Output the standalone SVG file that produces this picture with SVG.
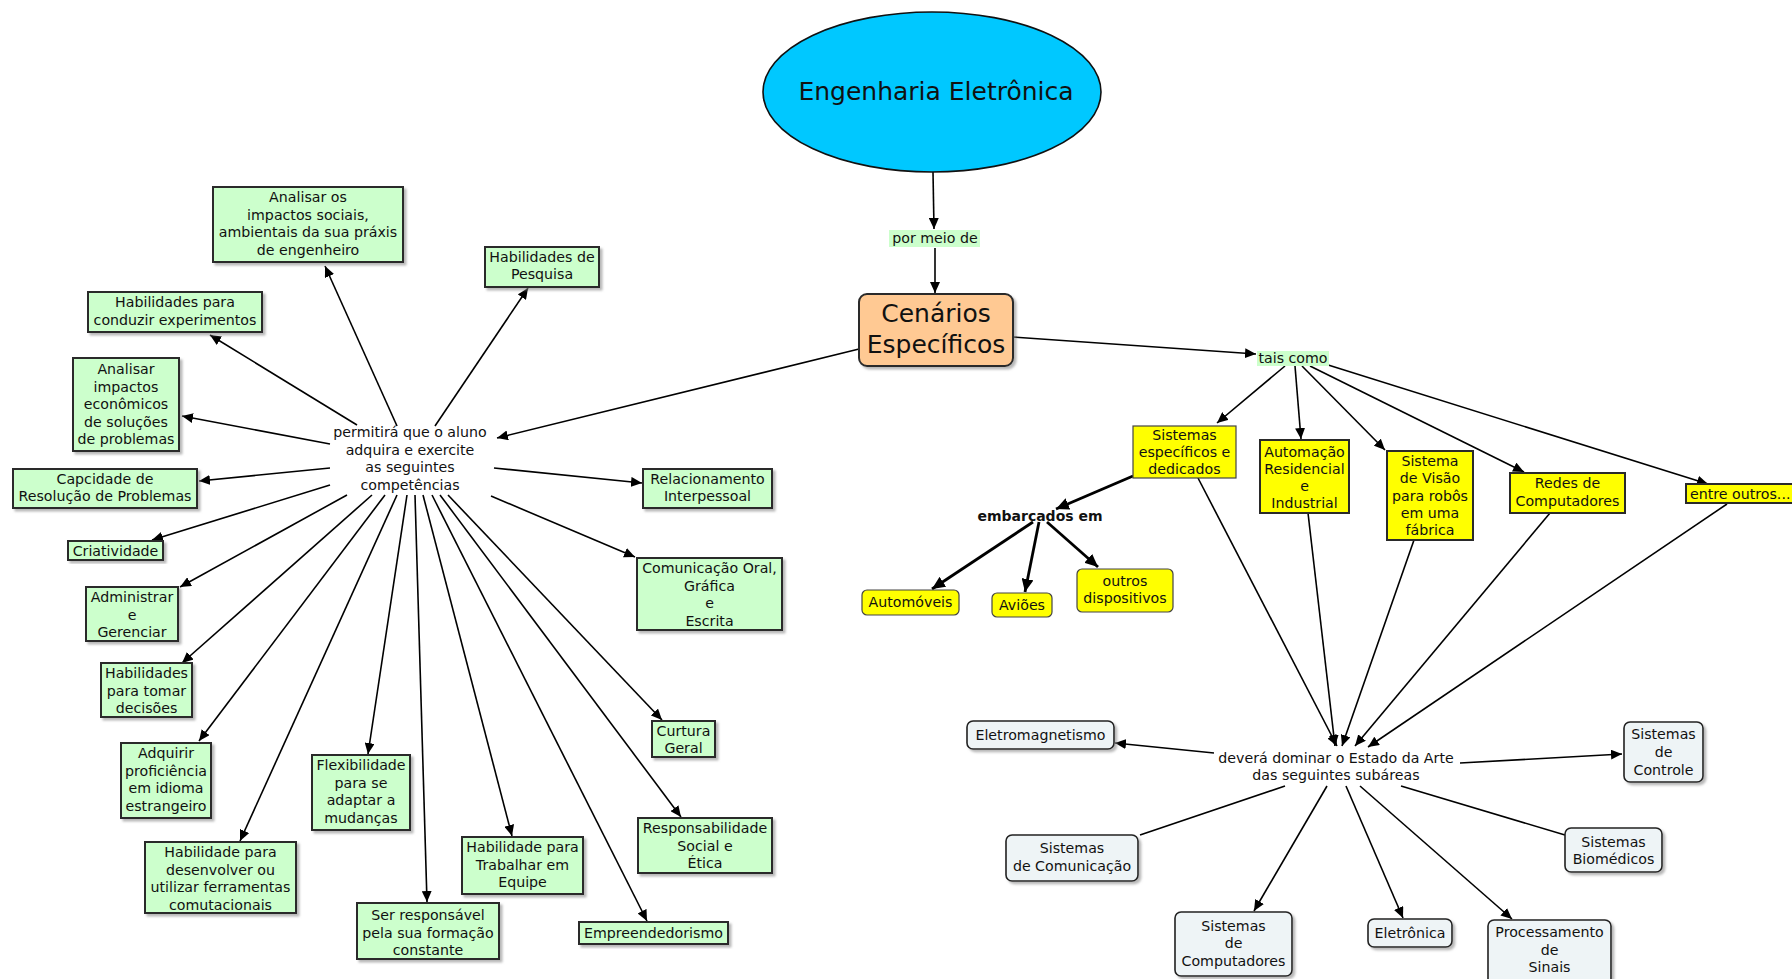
<svg xmlns="http://www.w3.org/2000/svg" width="1792" height="979" viewBox="0 0 1792 979">
<style>
text{font-family:"DejaVu Sans",Verdana,sans-serif;font-size:14.2px;fill:#111;text-anchor:middle}
.g{fill:#CCFFCC;stroke:#2a2a2a;stroke-width:2;filter:url(#sh)}
.y{fill:#FFFF00;stroke:#2a2a2a;stroke-width:2}
.yr{fill:#FFFF00;stroke:#444;stroke-width:1.2}
.b{fill:#EEF4F6;stroke:#222;stroke-width:1.6;filter:url(#sh)}
.lbl{fill:#CCFFCC}
.c line{stroke:#000;stroke-width:1.6;fill:none}
.c .a{marker-end:url(#ar)}
.c .t{stroke-width:2.8;marker-end:url(#arb)}
</style>
<defs>
<filter id="sh" x="-10%" y="-10%" width="130%" height="130%">
<feDropShadow dx="2.5" dy="2.5" stdDeviation="1.2" flood-color="#888" flood-opacity="0.6"/>
</filter>
<marker id="ar" markerUnits="userSpaceOnUse" markerWidth="12" markerHeight="10" refX="11" refY="5" orient="auto">
<path d="M0,0 L11,5 L0,10 z" fill="#000"/>
</marker>
<marker id="arb" markerUnits="userSpaceOnUse" markerWidth="14" markerHeight="12" refX="13" refY="6" orient="auto">
<path d="M0,0 L13,6 L0,12 z" fill="#000"/>
</marker>
</defs>
<rect width="1792" height="979" fill="#fff"/>

<g class="c" id="connectors">
<line class="a" x1="933" y1="172" x2="934" y2="229"/>
<line class="a" x1="935" y1="248" x2="935" y2="293"/>
<line class="a" x1="859" y1="349" x2="497" y2="438"/>
<line class="a" x1="1013" y1="337" x2="1256" y2="354"/>
<line class="a" x1="397" y1="426" x2="325" y2="266"/>
<line class="a" x1="357" y1="425" x2="210" y2="335"/>
<line class="a" x1="330" y1="444" x2="182" y2="416"/>
<line class="a" x1="330" y1="468" x2="199" y2="481"/>
<line class="a" x1="330" y1="485" x2="152" y2="540"/>
<line class="a" x1="347" y1="495" x2="180" y2="587"/>
<line class="a" x1="372" y1="495" x2="182" y2="663"/>
<line class="a" x1="385" y1="495" x2="199" y2="741"/>
<line class="a" x1="397" y1="495" x2="240" y2="841"/>
<line class="a" x1="407" y1="495" x2="368" y2="754"/>
<line class="a" x1="415" y1="495" x2="427" y2="902"/>
<line class="a" x1="423" y1="495" x2="512" y2="836"/>
<line class="a" x1="432" y1="495" x2="647" y2="921"/>
<line class="a" x1="440" y1="495" x2="681" y2="817"/>
<line class="a" x1="448" y1="495" x2="662" y2="720"/>
<line class="a" x1="435" y1="426" x2="528" y2="288"/>
<line class="a" x1="494" y1="468" x2="642" y2="483"/>
<line class="a" x1="491" y1="496" x2="635" y2="557"/>
<line class="a" x1="1285" y1="366" x2="1217" y2="423"/>
<line class="a" x1="1295" y1="366" x2="1301" y2="439"/>
<line class="a" x1="1302" y1="366" x2="1385" y2="450"/>
<line class="a" x1="1310" y1="366" x2="1524" y2="472"/>
<line class="a" x1="1325" y1="364" x2="1708" y2="484"/>
<line class="a" x1="1198" y1="478" x2="1337" y2="746"/>
<line class="a" x1="1308" y1="513" x2="1335" y2="746"/>
<line class="a" x1="1414" y1="540" x2="1342" y2="746"/>
<line class="a" x1="1550" y1="513" x2="1355" y2="746"/>
<line class="a" x1="1727" y1="504" x2="1368" y2="747"/>
<line class="t" x1="1133" y1="476" x2="1056" y2="509"/>
<line class="t" x1="1033" y1="522" x2="932" y2="589"/>
<line class="t" x1="1039" y1="522" x2="1025" y2="592"/>
<line class="t" x1="1047" y1="522" x2="1098" y2="567"/>
<line class="a" x1="1214" y1="753" x2="1115" y2="743"/>
<line class="a" x1="1460" y1="763" x2="1622" y2="754"/>
<line x1="1285" y1="786" x2="1140" y2="835"/>
<line class="a" x1="1327" y1="786" x2="1254" y2="911"/>
<line class="a" x1="1346" y1="786" x2="1403" y2="918"/>
<line class="a" x1="1360" y1="786" x2="1512" y2="919"/>
<line x1="1401" y1="786" x2="1565" y2="835"/>
</g>

<g id="engenharia">
<ellipse cx="932" cy="92" rx="169" ry="80" fill="#00C8FF" stroke="#111" stroke-width="1.6"/>
<text x="936" y="100" style="font-size:25px">Engenharia Eletrônica</text>
</g>
<g id="por-meio-de">
<rect class="lbl" x="889" y="230" width="91" height="17"/>
<text x="935" y="243">por meio de</text>
</g>
<g id="cenarios">
<rect x="859" y="294" width="154" height="72" rx="8" fill="#FFC993" stroke="#2a2a2a" stroke-width="2" filter="url(#sh)"/>
<text x="936" y="322" style="font-size:25px">Cenários</text>
<text x="936" y="353" style="font-size:25px">Específicos</text>
</g>
<g id="permitira">
<text x="410" y="437">permitirá que o aluno</text>
<text x="410" y="454.5">adquira e exercite</text>
<text x="410" y="472">as seguintes</text>
<text x="410" y="489.5">competências</text>
</g>

<g id="n-sociais"><rect class="g" x="213" y="187" width="190" height="75"/>
<text x="308" y="202">Analisar os</text><text x="308" y="219.5">impactos sociais,</text><text x="308" y="237">ambientais da sua práxis</text><text x="308" y="254.5">de engenheiro</text></g>
<g id="n-conduzir"><rect class="g" x="88" y="292" width="174" height="40"/>
<text x="175" y="307">Habilidades para</text><text x="175" y="324.5">conduzir experimentos</text></g>
<g id="n-economicos"><rect class="g" x="73" y="358" width="106" height="93"/>
<text x="126" y="374">Analisar</text><text x="126" y="391.5">impactos</text><text x="126" y="409">econômicos</text><text x="126" y="426.5">de soluções</text><text x="126" y="444">de problemas</text></g>
<g id="n-capcidade"><rect class="g" x="13" y="469" width="184" height="39"/>
<text x="105" y="484">Capcidade de</text><text x="105" y="501">Resolução de Problemas</text></g>
<g id="n-criatividade"><rect class="g" x="68" y="541" width="95" height="19"/>
<text x="115.5" y="556">Criatividade</text></g>
<g id="n-administrar"><rect class="g" x="86" y="587" width="92" height="54"/>
<text x="132" y="602">Administrar</text><text x="132" y="619.5">e</text><text x="132" y="637">Gerenciar</text></g>
<g id="n-decisoes"><rect class="g" x="101" y="663" width="91" height="54"/>
<text x="146.5" y="678">Habilidades</text><text x="146.5" y="695.5">para tomar</text><text x="146.5" y="713">decisões</text></g>
<g id="n-idioma"><rect class="g" x="121" y="743" width="90" height="75"/>
<text x="166" y="758">Adquirir</text><text x="166" y="775.5">proficiência</text><text x="166" y="793">em idioma</text><text x="166" y="810.5">estrangeiro</text></g>
<g id="n-ferramentas"><rect class="g" x="145" y="842" width="151" height="71"/>
<text x="220.5" y="857">Habilidade para</text><text x="220.5" y="874.5">desenvolver ou</text><text x="220.5" y="892">utilizar ferramentas</text><text x="220.5" y="909.5">comutacionais</text></g>
<g id="n-flexibilidade"><rect class="g" x="312" y="755" width="98" height="75"/>
<text x="361" y="770">Flexibilidade</text><text x="361" y="787.5">para se</text><text x="361" y="805">adaptar a</text><text x="361" y="822.5">mudanças</text></g>
<g id="n-responsavel"><rect class="g" x="357" y="903" width="142" height="56"/>
<text x="428" y="920">Ser responsável</text><text x="428" y="937.5">pela sua formação</text><text x="428" y="955">constante</text></g>
<g id="n-equipe"><rect class="g" x="462" y="837" width="121" height="57"/>
<text x="522.5" y="852">Habilidade para</text><text x="522.5" y="869.5">Trabalhar em</text><text x="522.5" y="887">Equipe</text></g>
<g id="n-empreendedorismo"><rect class="g" x="579" y="922" width="149" height="22"/>
<text x="653.5" y="938">Empreendedorismo</text></g>
<g id="n-etica"><rect class="g" x="638" y="818" width="134" height="55"/>
<text x="705" y="833">Responsabilidade</text><text x="705" y="850.5">Social e</text><text x="705" y="868">Ética</text></g>
<g id="n-cultura"><rect class="g" x="652" y="721" width="63" height="36"/>
<text x="683.5" y="736">Curtura</text><text x="683.5" y="752.5">Geral</text></g>
<g id="n-comunicacao"><rect class="g" x="637" y="558" width="145" height="72"/>
<text x="709.5" y="573">Comunicação Oral,</text><text x="709.5" y="590.5">Gráfica</text><text x="709.5" y="608">e</text><text x="709.5" y="625.5">Escrita</text></g>
<g id="n-relacionamento"><rect class="g" x="643" y="469" width="129" height="39"/>
<text x="707.5" y="484">Relacionamento</text><text x="707.5" y="501">Interpessoal</text></g>
<g id="n-pesquisa"><rect class="g" x="485" y="247" width="114" height="40"/>
<text x="542" y="262">Habilidades de</text><text x="542" y="279">Pesquisa</text></g>

<g id="tais-como">
<rect class="lbl" x="1257" y="351" width="72" height="15"/>
<text x="1293" y="363">tais como</text>
</g>
<g id="n-sistemas-especificos"><rect class="yr" x="1133" y="426" width="103" height="52"/>
<text x="1184.5" y="440">Sistemas</text><text x="1184.5" y="457">específicos e</text><text x="1184.5" y="474">dedicados</text></g>
<g id="n-automacao"><rect class="y" x="1260" y="440" width="89" height="73"/>
<text x="1304.5" y="457">Automação</text><text x="1304.5" y="474">Residencial</text><text x="1304.5" y="491">e</text><text x="1304.5" y="508">Industrial</text></g>
<g id="n-visao"><rect class="y" x="1387" y="451" width="86" height="89"/>
<text x="1430" y="466">Sistema</text><text x="1430" y="483.3">de Visão</text><text x="1430" y="500.6">para robôs</text><text x="1430" y="518">em uma</text><text x="1430" y="535">fábrica</text></g>
<g id="n-redes"><rect class="y" x="1510" y="473" width="115" height="40"/>
<text x="1567.5" y="488">Redes de</text><text x="1567.5" y="506">Computadores</text></g>
<g id="n-entre-outros"><rect class="y" x="1686" y="484" width="112" height="19"/>
<text x="1690" y="499" style="text-anchor:start">entre outros...</text></g>
<g id="embarcados">
<text x="1040" y="521" style="font-weight:bold;font-size:14px">embarcados em</text>
</g>
<g id="n-automoveis"><rect class="yr" x="862" y="590" width="97" height="25" rx="5"/>
<text x="910.5" y="607">Automóveis</text></g>
<g id="n-avioes"><rect class="yr" x="992" y="593" width="60" height="24" rx="5"/>
<text x="1022" y="610">Aviões</text></g>
<g id="n-outros-dispositivos"><rect class="yr" x="1077" y="569" width="96" height="43" rx="5"/>
<text x="1125" y="586">outros</text><text x="1125" y="603">dispositivos</text></g>

<g id="devera">
<text x="1336" y="763">deverá dominar o Estado da Arte</text>
<text x="1336" y="780">das seguintes subáreas</text>
</g>
<g id="n-eletromagnetismo"><rect class="b" x="967" y="721" width="147" height="28" rx="6"/>
<text x="1040.5" y="740">Eletromagnetismo</text></g>
<g id="n-controle"><rect class="b" x="1624" y="722" width="79" height="60" rx="6"/>
<text x="1663.5" y="739">Sistemas</text><text x="1663.5" y="757">de</text><text x="1663.5" y="775">Controle</text></g>
<g id="n-sis-comunicacao"><rect class="b" x="1006" y="835" width="132" height="46" rx="6"/>
<text x="1072" y="853">Sistemas</text><text x="1072" y="871">de Comunicação</text></g>
<g id="n-biomedicos"><rect class="b" x="1565" y="828" width="97" height="44" rx="6"/>
<text x="1613.5" y="847">Sistemas</text><text x="1613.5" y="864">Biomédicos</text></g>
<g id="n-sis-computadores"><rect class="b" x="1175" y="912" width="117" height="64" rx="6"/>
<text x="1233.5" y="931">Sistemas</text><text x="1233.5" y="948">de</text><text x="1233.5" y="966">Computadores</text></g>
<g id="n-eletronica"><rect class="b" x="1368" y="919" width="84" height="28" rx="6"/>
<text x="1410" y="938">Eletrônica</text></g>
<g id="n-processamento"><rect class="b" x="1488" y="920" width="123" height="66" rx="6"/>
<text x="1549.5" y="937">Processamento</text><text x="1549.5" y="955">de</text><text x="1549.5" y="972">Sinais</text></g>
</svg>
